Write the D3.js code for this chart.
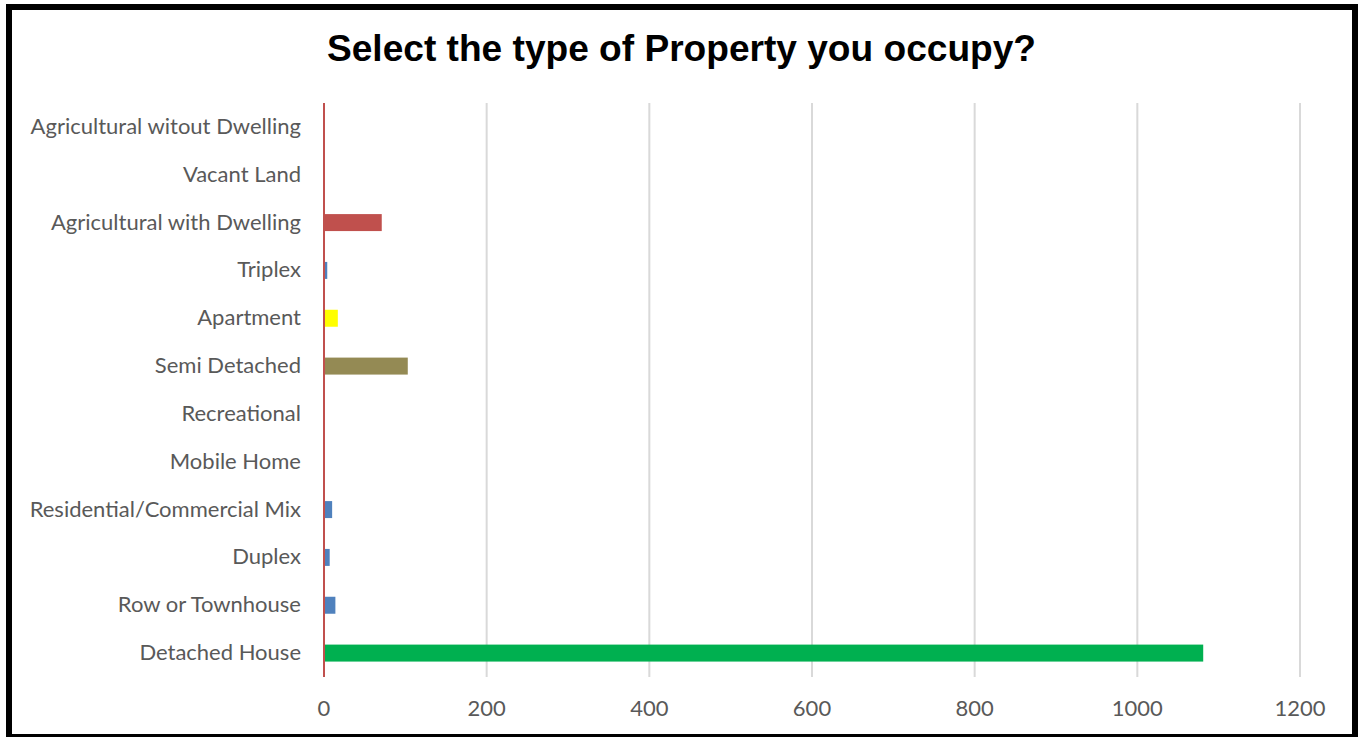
<!DOCTYPE html>
<html>
<head>
<meta charset="utf-8">
<script src="https://cdn.jsdelivr.net/npm/d3@7/dist/d3.min.js"></script>
<style>
  html, body { margin: 0; padding: 0; background: #fff; }
  svg { display: block; }
</style>
</head>
<body>
<svg id="chart" width="1358" height="737"></svg>
<script>
// Property types, listed top to bottom
const categories = [
  "Agricultural witout Dwelling",
  "Vacant Land",
  "Agricultural with Dwelling",
  "Triplex",
  "Apartment",
  "Semi Detached",
  "Recreational",
  "Mobile Home",
  "Residential/Commercial Mix",
  "Duplex",
  "Row or Townhouse",
  "Detached House"
];
// Number of respondents per property type
const counts = [0, 0, 71, 4, 17, 103, 0, 0, 10, 7, 14, 1081];
// Fill colour per bar
const barColors = [
  "#4F81BD", "#4F81BD", "#C0504D", "#4F81BD", "#FFFF00", "#948A54",
  "#4F81BD", "#4F81BD", "#4F81BD", "#4F81BD", "#4F81BD", "#00B050"
];
const xTicks = [0, 200, 400, 600, 800, 1000, 1200];
const titleText = "Select the type of Property you occupy?";

const svg = d3.select("#chart");
const plot = { left: 324, right: 1300, top: 103, bottom: 677 };

// Outer frame
svg.append("rect")
  .attr("x", 9).attr("y", 7)
  .attr("width", 1346).attr("height", 730)
  .attr("fill", "#fff")
  .attr("stroke", "#000")
  .attr("stroke-width", 6);

svg.append("text")
  .attr("x", 681.5).attr("y", 61)
  .attr("text-anchor", "middle")
  .attr("font-family", "Liberation Sans, Arial, sans-serif")
  .attr("font-weight", "bold")
  .attr("font-size", 37)
  .attr("textLength", 709)
  .attr("lengthAdjust", "spacingAndGlyphs")
  .attr("fill", "#000")
  .text(titleText);

const x = d3.scaleLinear().domain([0, 1200]).range([plot.left, plot.right]);
const y = d3.scaleBand().domain(categories).range([plot.top, plot.bottom]).paddingInner(0.645).paddingOuter(0.3225);

// Vertical gridlines
svg.append("g")
  .selectAll("line")
  .data(xTicks.filter(d => d > 0))
  .join("line")
  .attr("x1", d => x(d)).attr("x2", d => x(d))
  .attr("y1", plot.top).attr("y2", plot.bottom)
  .attr("stroke", "#D9D9D9")
  .attr("stroke-width", 2);

// Bars
svg.append("g")
  .selectAll("rect")
  .data(categories.map((c, i) => ({ c, v: counts[i], col: barColors[i] })))
  .join("rect")
  .attr("x", x(0))
  .attr("y", d => y(d.c))
  .attr("width", d => x(d.v) - x(0))
  .attr("height", y.bandwidth())
  .attr("fill", d => d.col);

// Zero axis line
svg.append("line")
  .attr("x1", x(0)).attr("x2", x(0))
  .attr("y1", plot.top).attr("y2", plot.bottom)
  .attr("stroke", "#C0504D")
  .attr("stroke-width", 2);

// Category labels
svg.append("g")
  .selectAll("text")
  .data(categories)
  .join("text")
  .attr("x", 301)
  .attr("y", d => y(d) + y.bandwidth() / 2 + 7)
  .attr("text-anchor", "end")
  .attr("font-family", "Lato, Open Sans, sans-serif")
  .attr("font-size", 22)
  .attr("fill", "#595959")
  .text(d => d);

// Value axis tick labels
svg.append("g")
  .selectAll("text")
  .data(xTicks)
  .join("text")
  .attr("x", d => x(d))
  .attr("y", 716)
  .attr("text-anchor", "middle")
  .attr("font-family", "Lato, Open Sans, sans-serif")
  .attr("font-size", 22)
  .attr("fill", "#595959")
  .text(d => d);
</script>
</body>
</html>
